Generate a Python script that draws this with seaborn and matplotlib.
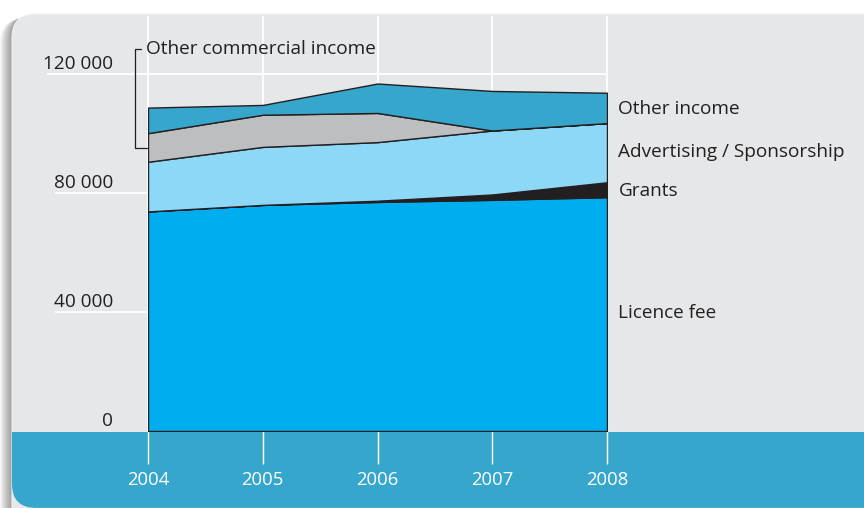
import matplotlib
matplotlib.use("Agg")
import matplotlib.pyplot as plt
from matplotlib.patches import FancyBboxPatch
import seaborn as sns

years = [2004, 2005, 2006, 2007, 2008]
licence_fee = [73800, 76000, 77000, 77700, 78600]
grants = [0, 0, 400, 1800, 5000]
advertising = [16700, 19500, 19700, 21500, 19900]
commercial = [9600, 10800, 9800, 0, 0]
other_income = [8600, 3300, 9900, 13300, 10200]

y_ticks = [0, 40000, 80000, 120000]
y_labels = ["0", "40 000", "80 000", "120 000"]

series_labels = ["Licence fee", "Grants", "Advertising / Sponsorship", "Other income"]
label_y = [39800, 80700, 93700, 108100]

colors = ["#00adef", "#231f20", "#8dd7f7", "#bcbec0", "#36a6cc"]
panel = "#e6e7e8"
band = "#36a6cc"
ink = "#231f20"

sns.set_theme(style="white")
plt.rcParams["font.family"] = ["Open Sans", "DejaVu Sans"]

fig = plt.figure(figsize=(8.64, 5.08), dpi=100)
fig.patch.set_facecolor("white")

# background in pixel units
bg = fig.add_axes([0, 0, 1, 1], zorder=0)
bg.set_xlim(0, 864)
bg.set_ylim(508, 0)
bg.axis("off")
# soft shadow on the left / top
for d in range(12, 0, -1):
    bg.add_patch(FancyBboxPatch((12 - d, 14 + d * 0.4), 900, 600,
                                boxstyle="round,pad=0,rounding_size=24",
                                fc="black", ec="none", alpha=0.035))
bg.add_patch(FancyBboxPatch((12, 14), 900, 600,
                            boxstyle="round,pad=0,rounding_size=24",
                            fc=panel, ec="#f2f2f2", lw=0.8))
bg.add_patch(FancyBboxPatch((12, 432), 900, 76 - 0.1,
                            boxstyle="round,pad=0,rounding_size=24",
                            fc=band, ec="none"))
bg.add_patch(plt.Rectangle((12, 432), 900, 30, fc=band, ec="none"))

ax = fig.add_axes([148 / 864, 77 / 508, 459 / 864, 357 / 508], zorder=1)
ax.patch.set_alpha(0)
ax.set_xlim(2004, 2008)
ax.set_ylim(0, 120000)
for s in ax.spines.values():
    s.set_visible(False)

# white grid
ax.vlines(years, 0, 139600, color="white", lw=1.3, zorder=0, clip_on=False)
starts = {40000: 2004 - 93 / 114.75, 80000: 2004 - 93 / 114.75, 120000: 2004 - 101 / 114.75}
for v in y_ticks[1:]:
    ax.hlines(v, starts[v], 2008, color="white", lw=1.3, zorder=0, clip_on=False)

ax.stackplot(years, licence_fee, grants, advertising, commercial, other_income,
             colors=colors, edgecolor=ink, linewidth=1.0, zorder=2)

fs = 13.7
for v, lab in zip(y_ticks, y_labels):
    ax.annotate(lab, xy=(2004, v), xytext=(-35, 1), textcoords="offset pixels",
                ha="right", va="bottom", fontsize=fs, color=ink, annotation_clip=False)

ax.set_yticks([])
ax.set_xticks(years)
ax.set_xticklabels([str(y) for y in years])
ax.tick_params(axis="x", direction="out", length=24, width=1.0, color="white",
               labelcolor="white", labelsize=13.3, pad=5, bottom=True)

for lab, y in zip(series_labels, label_y):
    ax.text(2008.1, y, lab, ha="left", va="center", fontsize=fs, color=ink, clip_on=False)

# bracket for other commercial income
bx = 2004 - 13 / 114.75
ax.plot([bx + 6 / 114.75, bx, bx, bx + 12 / 114.75], [128500, 128500, 95000, 95000],
        color=ink, lw=0.9, clip_on=False)
ax.text(bx + 11 / 114.75, 128500, "Other commercial income", ha="left", va="center",
        fontsize=fs, color=ink, clip_on=False)

fig.savefig("out.png", dpi=100)
